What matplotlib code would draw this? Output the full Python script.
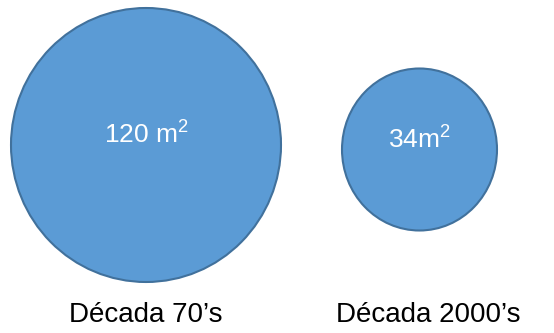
import matplotlib
matplotlib.use("Agg")
import matplotlib.pyplot as plt
from matplotlib.patches import Ellipse

# data
categories = ["Década 70\u2019s", "Década 2000\u2019s"]
values = [120, 34]
value_labels = ["120 m$^2$", "34m$^2$"]

# layout (pixels)
centers_x = [146, 419.5]
centers_y = [145, 149.5]
widths = [270, 155]
heights = [274, 162]
label_x = [146, 428]

plt.rcParams['font.family'] = ['Liberation Sans', 'DejaVu Sans']
plt.rcParams['mathtext.fontset'] = 'custom'
plt.rcParams['mathtext.rm'] = 'Liberation Sans'
fig = plt.figure(figsize=(5.54, 3.33), dpi=100)
ax = fig.add_axes([0, 0, 1, 1])
ax.set_xlim(0, 554)
ax.set_ylim(333, 0)
ax.axis('off')

for i, (cat, v) in enumerate(zip(categories, values)):
    e = Ellipse((centers_x[i], centers_y[i]), widths[i], heights[i],
                facecolor='#5B9BD5', edgecolor='#41719C', linewidth=1.5)
    ax.add_patch(e)
    ax.text(centers_x[i], centers_y[i] - 11, value_labels[i], color='white',
            fontsize=19, ha='center', va='center')
    ax.text(label_x[i], 315, cat, color='black', fontsize=20,
            ha='center', va='center')

fig.savefig("out.png", dpi=100)
